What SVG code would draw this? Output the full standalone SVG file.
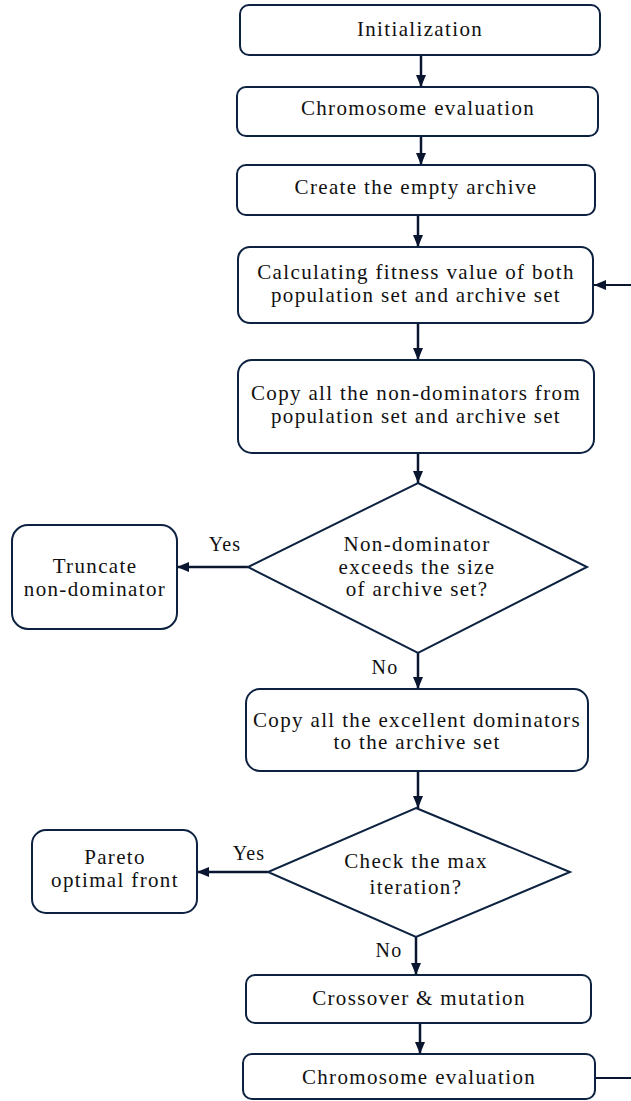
<svg xmlns="http://www.w3.org/2000/svg" width="631" height="1101" viewBox="0 0 631 1101">
<defs>
<marker id="ah" viewBox="0 0 12 10" refX="12" refY="5" markerWidth="12" markerHeight="10" markerUnits="userSpaceOnUse" orient="auto">
<path d="M0,0 L12,5 L0,10 z" fill="#0a1530"/>
</marker>
<style>
.box{fill:#fff;stroke:#0d2240;stroke-width:2}
.t{font-family:"Liberation Serif","Times New Roman",serif;font-size:21px;letter-spacing:1.35px;fill:#111;text-anchor:middle}
.l{font-family:"Liberation Serif","Times New Roman",serif;font-size:20px;letter-spacing:1.2px;fill:#111;text-anchor:middle}
.c{fill:none;stroke:#0a1530;stroke-width:2.5;marker-end:url(#ah)}
.cn{fill:none;stroke:#0a1530;stroke-width:2}
</style>
</defs>
<rect width="631" height="1101" fill="#fff"/>
<g id="connectors">
<line class="c" x1="421" y1="55" x2="421" y2="87"/>
<line class="c" x1="421" y1="136" x2="421" y2="165"/>
<line class="c" x1="418" y1="215" x2="418" y2="247"/>
<line class="c" x1="418" y1="323" x2="418" y2="360"/>
<line class="c" x1="418" y1="453" x2="418" y2="483"/>
<line class="c" x1="248" y1="567" x2="177" y2="567"/>
<line class="c" x1="418" y1="653" x2="418" y2="689"/>
<line class="c" x1="418" y1="771" x2="418" y2="808"/>
<line class="c" x1="268" y1="872" x2="197" y2="872"/>
<line class="c" x1="416" y1="937" x2="416" y2="975"/>
<line class="c" x1="420" y1="1023" x2="420" y2="1054"/>
<path class="c" d="M595,1078 H650 V285 H594" style="stroke-width:2"/>
<text class="l" x="225" y="551">Yes</text>
<text class="l" x="385" y="674">No</text>
<text class="l" x="249" y="860">Yes</text>
<text class="l" x="389" y="957">No</text>
</g>
<g id="init"><rect class="box" x="240" y="5" width="360" height="50" rx="9"/><text class="t" x="420" y="36">Initialization</text></g>
<g id="eval1"><rect class="box" x="237" y="87" width="361" height="49" rx="9"/><text class="t" x="418" y="115">Chromosome evaluation</text></g>
<g id="archive"><rect class="box" x="237" y="165" width="358" height="50" rx="9"/><text class="t" x="416" y="194">Create the empty archive</text></g>
<g id="fitness"><rect class="box" x="238" y="247" width="355" height="76" rx="12"/><text class="t" x="416" y="279">Calculating fitness value of both</text><text class="t" x="416" y="302">population set and archive set</text></g>
<g id="copynd"><rect class="box" x="238" y="360" width="356" height="93" rx="14"/><text class="t" x="416" y="400">Copy all the non-dominators from</text><text class="t" x="416" y="423">population set and archive set</text></g>
<g id="dec1"><polygon class="box" points="418,483 587,567 418,653 248,567"/><text class="t" x="417" y="551">Non-dominator</text><text class="t" x="417" y="574">exceeds the size</text><text class="t" x="417" y="596">of archive set?</text></g>
<g id="truncate"><rect class="box" x="12" y="525" width="165" height="104" rx="16"/><text class="t" x="95" y="573">Truncate</text><text class="t" x="95" y="596">non-dominator</text></g>
<g id="copyex"><rect class="box" x="246" y="689" width="342" height="82" rx="14"/><text class="t" x="417" y="727">Copy all the excellent dominators</text><text class="t" x="417" y="749">to the archive set</text></g>
<g id="dec2"><polygon class="box" points="416,808 570,872 416,937 268,872"/><text class="t" x="416" y="868">Check the max</text><text class="t" x="416" y="894">iteration?</text></g>
<g id="pareto"><rect class="box" x="32" y="830" width="165" height="83" rx="14"/><text class="t" x="115" y="864">Pareto</text><text class="t" x="115" y="887">optimal front</text></g>
<g id="cross"><rect class="box" x="246" y="975" width="345" height="48" rx="9"/><text class="t" x="419" y="1005">Crossover &amp; mutation</text></g>
<g id="eval2"><rect class="box" x="243" y="1054" width="352" height="45" rx="9"/><text class="t" x="419" y="1084">Chromosome evaluation</text></g>
</svg>
